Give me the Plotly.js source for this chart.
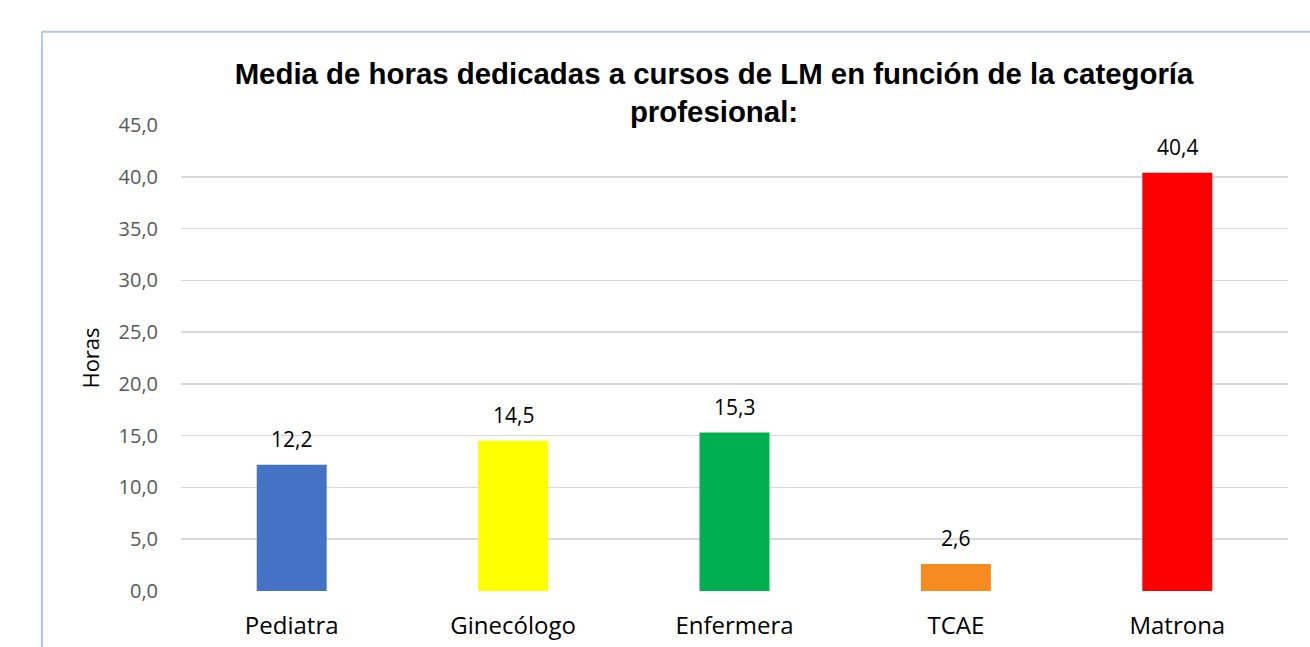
<!DOCTYPE html>
<html>
<head>
<meta charset="utf-8">
<script src="https://cdn.plot.ly/plotly-3.0.1.min.js"></script>
<style>html,body{margin:0;padding:0;background:#fff;}#chart{width:1310px;height:647px;}</style>
</head>
<body>
<div id="chart"></div>
<script>
const categories = ["Pediatra", "Ginecólogo", "Enfermera", "TCAE", "Matrona"];
const values = [12.2, 14.5, 15.3, 2.6, 40.4];
const barColors = ["#4472C4", "#FFFF00", "#00B050", "#F68B1F", "#FF0000"];
const tickValues = [0, 5, 10, 15, 20, 25, 30, 35, 40, 45];
const titleText = "Media de horas dedicadas a cursos de LM en función de la categoría<br>profesional:";
const yTitle = "Horas";

const font = "'Open Sans', Lato, sans-serif";

const trace = {
  type: "bar",
  x: categories,
  y: values,
  marker: { color: barColors, line: { width: 0 } },
  hoverinfo: "skip"
};

const annotations = categories.map((c, i) => ({
  x: c, y: values[i], xref: "x", yref: "y",
  text: values[i].toFixed(1).replace(".", ","),
  showarrow: false, yanchor: "bottom", yshift: 10,
  font: { family: font, size: 21, color: "#000000" }
}));

const layout = {
  width: 1310, height: 647,
  margin: { l: 181, r: 22, t: 125, b: 56 },
  paper_bgcolor: "#ffffff", plot_bgcolor: "#ffffff",
  separators: ",.",
  showlegend: false,
  bargap: 0.684,
  title: {
    text: titleText,
    x: 0.4815, xanchor: "center", xref: "paper",
    y: 0.870, yanchor: "middle", yref: "container",
    font: { family: "'Liberation Sans', Arial, sans-serif", size: 29.4, color: "#000000", weight: "bold" }
  },
  xaxis: {
    type: "category",
    showgrid: false, zeroline: false, showline: false,
    ticks: "", ticklabelstandoff: 18,
    tickfont: { family: font, size: 24, color: "#000000" }
  },
  yaxis: {
    range: [0, 45],
    tickvals: tickValues,
    tickformat: ".1f",
    showgrid: true, gridcolor: "#d9d9d9", gridwidth: 1.5,
    zeroline: false, showline: false, ticks: "",
    ticklabelstandoff: 22,
    tickfont: { family: font, size: 20, color: "#595959" },
    title: { text: yTitle, standoff: 12, font: { family: font, size: 22, color: "#000000" } }
  },
  annotations: annotations,
  shapes: [
    { type: "line", xref: "paper", yref: "paper", x0: -0.1256, x1: -0.1256, y0: 1.2, y1: -0.13,
      line: { color: "#B4C7E7", width: 2 } },
    { type: "line", xref: "paper", yref: "paper", x0: -0.1256, x1: 1.03, y0: 1.2, y1: 1.2,
      line: { color: "#B4C7E7", width: 2 } }
  ]
};

Plotly.newPlot("chart", [trace], layout, { displayModeBar: false, staticPlot: true });
</script>
</body>
</html>
